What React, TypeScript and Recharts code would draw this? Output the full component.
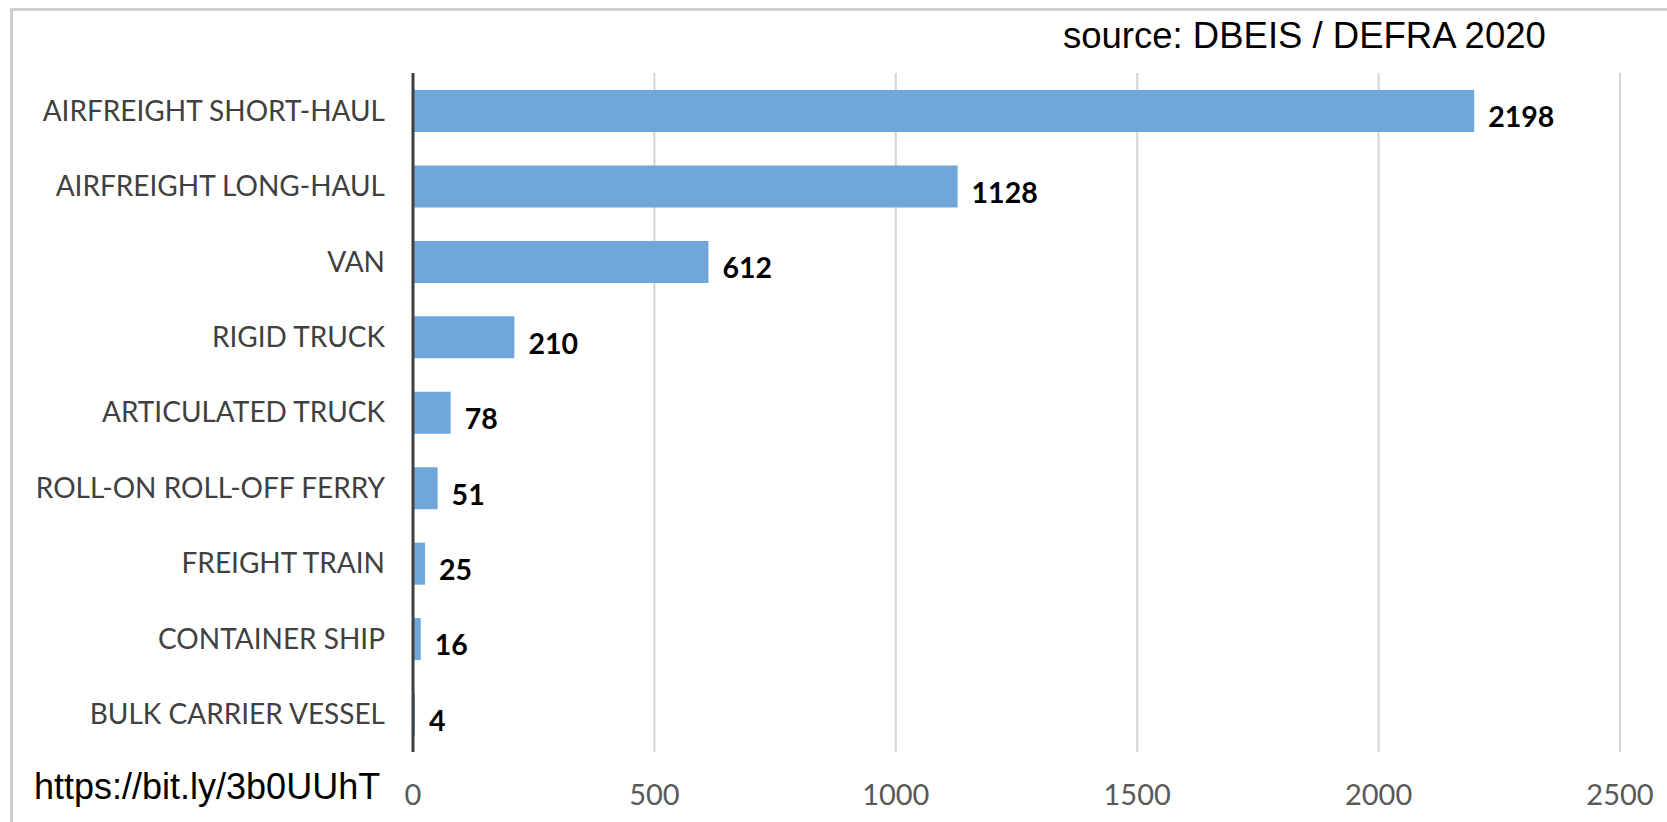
import { BarChart, Bar, XAxis, YAxis, CartesianGrid, LabelList } from "recharts";

const categories = [
  "AIRFREIGHT SHORT-HAUL",
  "AIRFREIGHT LONG-HAUL",
  "VAN",
  "RIGID TRUCK",
  "ARTICULATED TRUCK",
  "ROLL-ON ROLL-OFF FERRY",
  "FREIGHT TRAIN",
  "CONTAINER SHIP",
  "BULK CARRIER VESSEL",
];
const emissions = [2198, 1128, 612, 210, 78, 51, 25, 16, 4];
const xTicks = [0, 500, 1000, 1500, 2000, 2500];

const data = categories.map((name, i) => ({ name, value: emissions[i] }));

const renderValue = (props: any) => {
  const { x, y, width, height, value } = props;
  return (
    <text
      x={x + width + 14}
      y={y + height / 2 + 9}
      dominantBaseline="middle"
      fontFamily="Lato"
      fontWeight={700}
      fontSize={28.5}
      fill="#000"
    >
      {value}
    </text>
  );
};

export default function App() {
  return (
    <div style={{ position: "absolute", left: 0, top: 0, width: 1667, height: 822, background: "#fff" }}>
      <div
        style={{
          position: "absolute",
          left: 10,
          top: 8,
          right: 0,
          bottom: 0,
          borderTop: "3px solid #cfcfcf",
          borderLeft: "3px solid #cfcfcf",
        }}
      />
      <BarChart
        width={1667}
        height={822}
        data={data}
        layout="vertical"
        margin={{ left: 0, right: 47, top: 73, bottom: 0 }}
        style={{ position: "absolute", left: 0, top: 0 }}
      >
        <CartesianGrid horizontal={false} stroke="#d4d4d4" strokeWidth={2} />
        <XAxis
          type="number"
          domain={[0, 2500]}
          ticks={xTicks}
          height={70}
          axisLine={false}
          tickLine={false}
          tickSize={0}
          tickMargin={32}
          tick={{ fontSize: 29, fill: "#595959", fontFamily: "Lato" }}
        />
        <YAxis
          type="category"
          dataKey="name"
          width={413}
          axisLine={{ stroke: "#404040", strokeWidth: 3 }}
          tickLine={false}
          tickSize={0}
          tickMargin={28}
          tick={{ fontSize: 28, fill: "#404040", fontFamily: "Lato" }}
        />
        <Bar dataKey="value" fill="#70a7da" barSize={42} isAnimationActive={false}>
          <LabelList dataKey="value" content={renderValue} />
        </Bar>
      </BarChart>
      <div
        style={{
          position: "absolute",
          left: 1063,
          top: 15,
          fontFamily: "Liberation Sans",
          fontSize: 36.5,
          color: "#000",
          whiteSpace: "nowrap",
        }}
      >
        source: DBEIS / DEFRA 2020
      </div>
      <div
        style={{
          position: "absolute",
          left: 34,
          top: 766,
          fontFamily: "Liberation Sans",
          fontSize: 36,
          color: "#000",
          whiteSpace: "nowrap",
        }}
      >
        https://bit.ly/3b0UUhT
      </div>
    </div>
  );
}
